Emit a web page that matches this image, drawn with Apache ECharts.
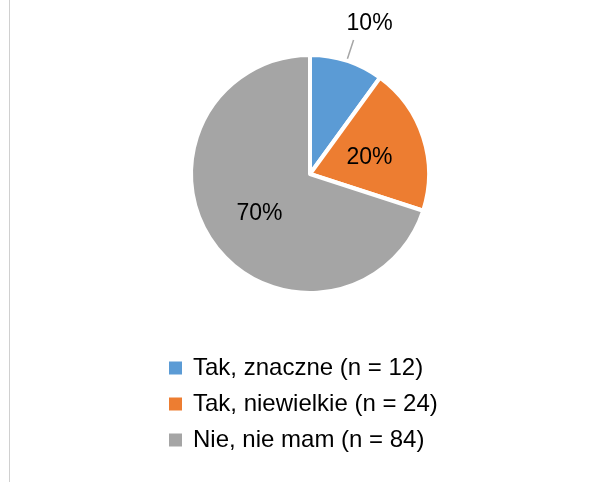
<!DOCTYPE html>
<html>
<head>
<meta charset="utf-8">
<script src="https://cdn.jsdelivr.net/npm/echarts@6/dist/echarts.min.js"></script>
<style>
html,body{margin:0;padding:0;background:#fff;}
#wrap{position:absolute;left:0;top:0;width:600px;height:482px;}
#edge{position:absolute;left:9px;top:0;width:1px;height:482px;background:#d0d0d0;}
#chart{position:absolute;left:0;top:0;width:600px;height:482px;}
</style>
</head>
<body>
<div id="wrap"><div id="edge"></div><div id="chart"></div></div>
<script>
var categories = ['Tak, znaczne (n = 12)', 'Tak, niewielkie (n = 24)', 'Nie, nie mam (n = 84)'];
var values = [12, 24, 84];
var colors = ['#5b9bd5', '#ed7d31', '#a5a5a5'];

var chart = echarts.init(document.getElementById('chart'), null, {renderer: 'canvas'});
var data = categories.map(function (c, i) {
  var d = {name: c, value: values[i], itemStyle: {color: colors[i]}};
  if (i === 0) {
    d.label = {position: 'outside'};
    d.labelLine = {show: true, length: 22, length2: 0, lineStyle: {color: '#a5a5a5', width: 1.5}};
  } else {
    d.label = {position: 'inside'};
    d.labelLine = {show: false};
  }
  return d;
});
chart.setOption({
  animation: false,
  legend: {
    orient: 'vertical',
    left: 167,
    top: 356,
    padding: 0,
    itemWidth: 15,
    itemHeight: 15,
    itemGap: 12,
    icon: 'rect',
    textStyle: {fontFamily: 'Liberation Sans', fontSize: 24, lineHeight: 21, color: '#000', padding: [0, 0, 0, 5]},
    data: categories
  },
  series: [{
    type: 'pie',
    center: [310, 174],
    radius: [0, 119],
    startAngle: 90,
    clockwise: true,
    avoidLabelOverlap: false,
    itemStyle: {borderColor: '#fff', borderWidth: 4},
    label: {
      show: true,
      formatter: function (p) { return Math.round(p.percent) + '%'; },
      fontFamily: 'Liberation Sans',
      fontSize: 23,
      color: '#000'
    },
    labelLayout: function (p) {
      if (p.dataIndex === 0) {
        return {dx: -12, dy: -16};
      }
      return {dx: 0, dy: 3};
    },
    data: data
  }]
});
</script>
</body>
</html>
